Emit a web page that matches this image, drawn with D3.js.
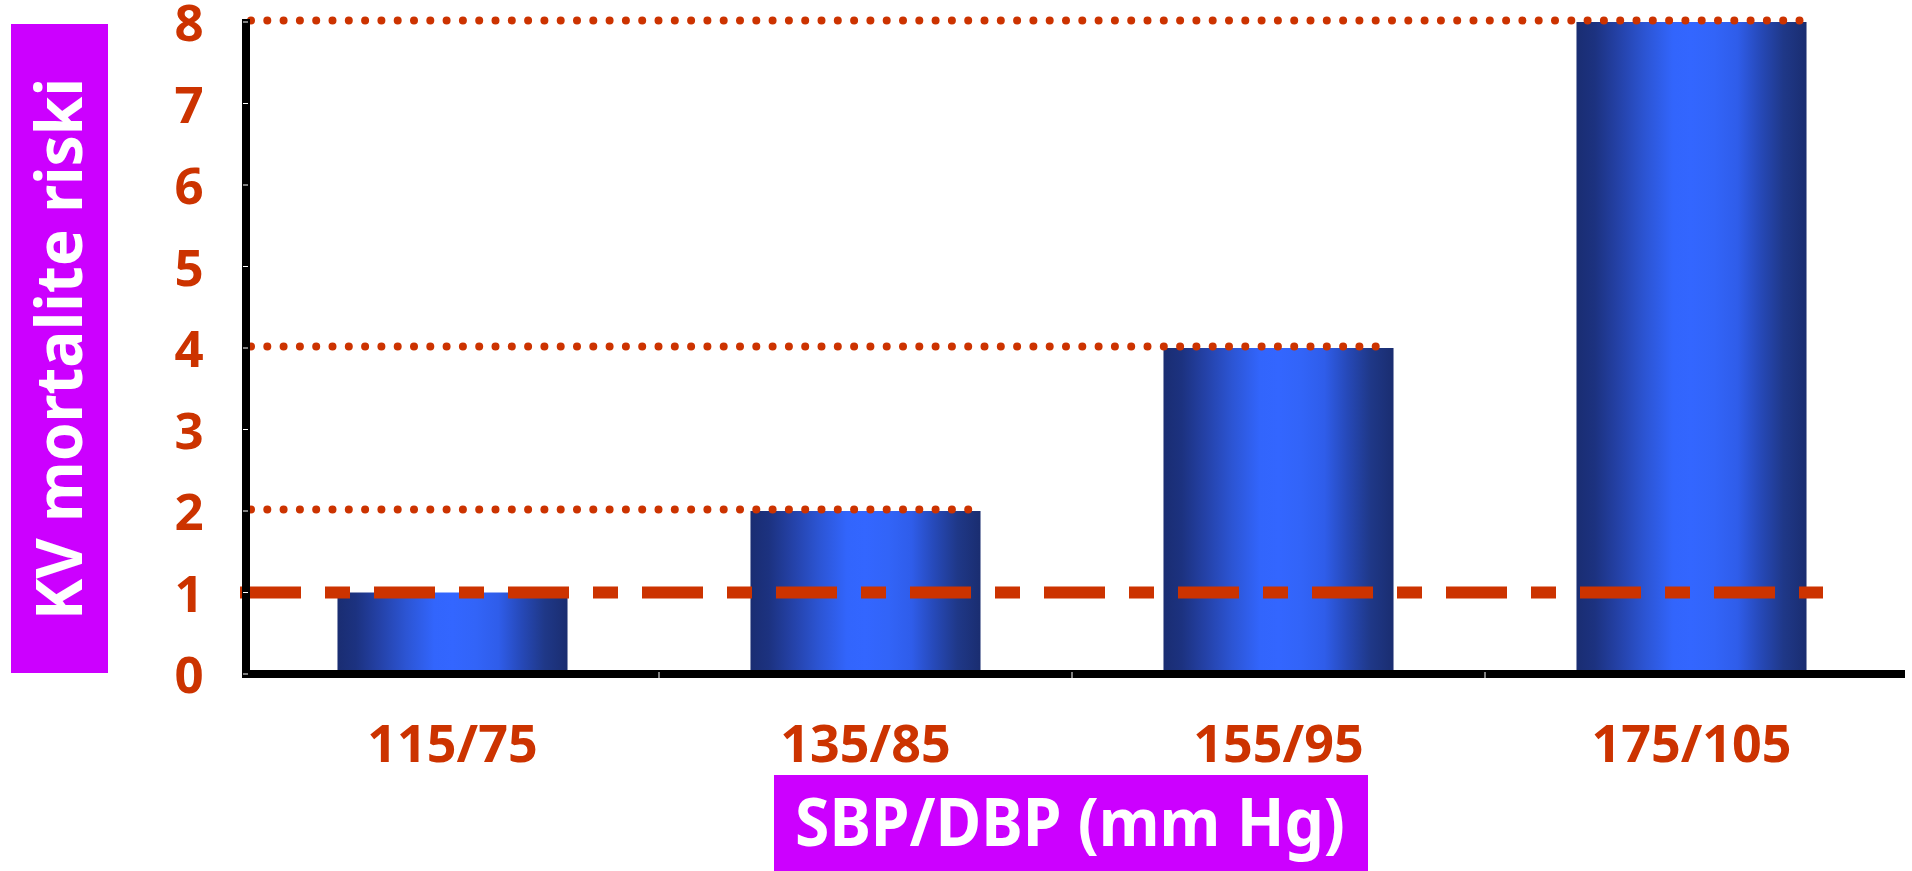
<!DOCTYPE html>
<html>
<head>
<meta charset="utf-8">
<script src="https://cdn.jsdelivr.net/npm/d3@7"></script>
<style>
  html, body { margin: 0; padding: 0; background: #ffffff; }
  svg { display: block; }
  text { font-family: "Noto Sans", "DejaVu Sans", sans-serif; font-weight: bold; }
</style>
</head>
<body>
<svg id="chart" width="1912" height="871"></svg>
<script>
// ---- data ----
const categories = ["115/75", "135/85", "155/95", "175/105"];
const riskValues = [1, 2, 4, 8];
const yTickValues = [0, 1, 2, 3, 4, 5, 6, 7, 8];
const baselineRisk = 1;
const yAxisTitle = "KV mortalite riski";
const xAxisTitle = "SBP/DBP (mm Hg)";

// ---- styles ----
const RED = "#CC3300";
const MAGENTA = "#CC00FF";

const svg = d3.select("#chart");

const x = d3.scaleBand()
  .domain(categories)
  .range([246, 1898])
  .paddingInner(0.443)
  .paddingOuter(0.2215);

const y = d3.scaleLinear().domain([0, 8]).range([674, 22]);

// gradient for bars
const defs = svg.append("defs");
const grad = defs.append("linearGradient")
  .attr("id", "barGrad").attr("x1", "0%").attr("x2", "100%").attr("y1", "0%").attr("y2", "0%");
[
  [0, "#1A2D72"], [0.08, "#1C3280"], [0.18, "#2441A6"], [0.3, "#2C55D4"],
  [0.42, "#3265FC"], [0.5, "#3366FF"], [0.6, "#3264F8"], [0.7, "#2F5DEA"],
  [0.8, "#2649B8"], [0.9, "#1F3888"], [1, "#1A2D70"]
].forEach(([o, c]) => grad.append("stop").attr("offset", o).attr("stop-color", c));

// bars
svg.append("g").selectAll("rect")
  .data(categories.map((c, i) => ({ c, v: riskValues[i] })))
  .join("rect")
  .attr("x", d => x(d.c))
  .attr("width", x.bandwidth())
  .attr("y", d => y(d.v))
  .attr("height", d => y(0) - y(d.v))
  .attr("fill", "url(#barGrad)");

// dotted reference lines at each bar value above baseline
svg.append("g").selectAll("line")
  .data(categories.map((c, i) => ({ c, v: riskValues[i] })).filter(d => d.v > baselineRisk))
  .join("line")
  .attr("x1", 251)
  .attr("x2", d => x(d.c) + x.bandwidth() - 2)
  .attr("y1", d => y(d.v) - 1.5)
  .attr("y2", d => y(d.v) - 1.5)
  .attr("stroke", RED)
  .attr("stroke-width", 8)
  .attr("stroke-linecap", "round")
  .attr("stroke-dasharray", "0 16.3");

// dashed baseline (risk = 1)
svg.append("line")
  .attr("x1", 240).attr("x2", 1823)
  .attr("y1", y(baselineRisk)).attr("y2", y(baselineRisk))
  .attr("stroke", RED)
  .attr("stroke-width", 12)
  .attr("stroke-dasharray", "61 24 25 24");

// axes lines
svg.append("line")
  .attr("x1", 246).attr("x2", 246)
  .attr("y1", y(8) - 3).attr("y2", y(0) + 4)
  .attr("stroke", "#000").attr("stroke-width", 8);
svg.append("line")
  .attr("x1", 242).attr("x2", 1905)
  .attr("y1", y(0)).attr("y2", y(0))
  .attr("stroke", "#000").attr("stroke-width", 8);

// tiny tick notches
svg.append("g").selectAll("line")
  .data(yTickValues)
  .join("line")
  .attr("x1", 243).attr("x2", 248)
  .attr("y1", d => y(d)).attr("y2", d => y(d))
  .attr("stroke", "#ffffff").attr("stroke-width", 1);
svg.append("g").selectAll("line")
  .data(categories.slice(1))
  .join("line")
  .attr("x1", d => x(d) - x.step() * x.paddingInner() / 2)
  .attr("x2", d => x(d) - x.step() * x.paddingInner() / 2)
  .attr("y1", y(0) - 2).attr("y2", y(0) + 4)
  .attr("stroke", "#ffffff").attr("stroke-width", 1);

// y tick labels
svg.append("g").selectAll("text")
  .data(yTickValues)
  .join("text")
  .attr("x", 189)
  .attr("y", d => y(d) + 19)
  .attr("text-anchor", "middle")
  .attr("font-size", 51)
  .attr("fill", RED)
  .text(d => d);

// x tick labels
svg.append("g").selectAll("text")
  .data(categories)
  .join("text")
  .attr("x", d => x(d) + x.bandwidth() / 2)
  .attr("y", 762)
  .attr("text-anchor", "middle")
  .attr("font-size", 52)
  .attr("fill", RED)
  .text(d => d);

// y axis title box
svg.append("rect")
  .attr("x", 11).attr("y", 24).attr("width", 97).attr("height", 649)
  .attr("fill", MAGENTA);
svg.append("text")
  .attr("transform", "translate(82,349) rotate(-90)")
  .attr("text-anchor", "middle")
  .attr("font-size", 64)
  .attr("fill", "#ffffff")
  .attr("textLength", 542)
  .attr("lengthAdjust", "spacingAndGlyphs")
  .text(yAxisTitle);

// x axis title box
svg.append("rect")
  .attr("x", 774).attr("y", 775).attr("width", 594).attr("height", 96)
  .attr("fill", MAGENTA);
svg.append("text")
  .attr("x", 1070).attr("y", 846)
  .attr("text-anchor", "middle")
  .attr("font-size", 66)
  .attr("fill", "#ffffff")
  .attr("textLength", 550)
  .attr("lengthAdjust", "spacingAndGlyphs")
  .text(xAxisTitle);
</script>
</body>
</html>
